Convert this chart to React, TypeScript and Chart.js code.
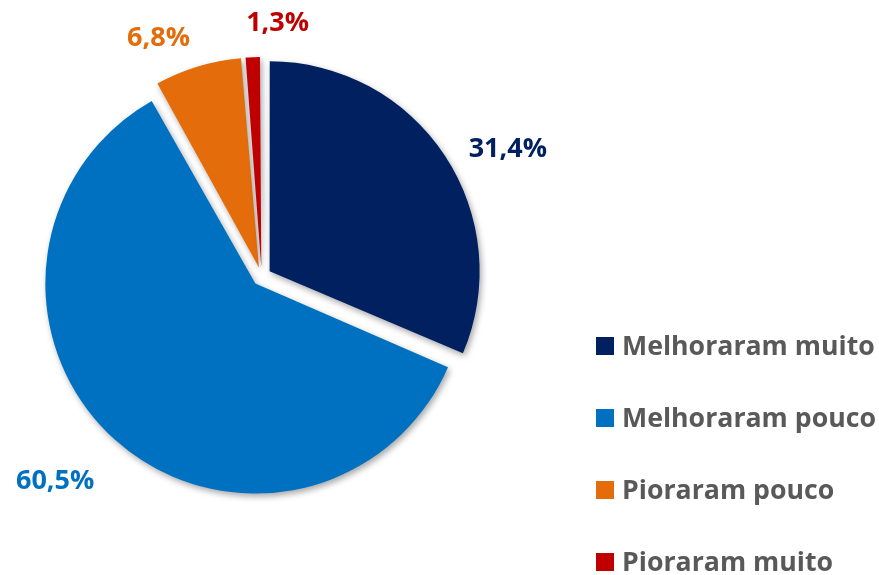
import React, { useEffect, useRef } from 'react';
import { Chart, registerables } from 'chart.js';

Chart.register(...registerables);

// ---- data ----
const categories = ['Melhoraram muito', 'Melhoraram pouco', 'Pioraram pouco', 'Pioraram muito'];
const shares = [31.4, 60.5, 6.8, 1.3];
const sliceColors = ['#002060', '#0070C0', '#E46C0A', '#C00000'];

const FONT = '"Open Sans", "Noto Sans", sans-serif';
const fmt = (v: number) => v.toFixed(1).replace('.', ',') + '%';

const shadowPlugin = {
  id: 'sliceShadow',
  beforeDatasetsDraw(chart: any) {
    const c = chart.ctx;
    c.save();
    c.shadowColor = 'rgba(0,0,0,0.35)';
    c.shadowBlur = 6;
    c.shadowOffsetX = 2;
    c.shadowOffsetY = 3;
  },
  afterDatasetsDraw(chart: any) {
    chart.ctx.restore();
  },
};

// keep every exploded slice at the same radius
const radiusFix = {
  id: 'radiusFix',
  afterDatasetUpdate(chart: any, args: any) {
    args.meta.data.forEach((el: any) => {
      const off = ((el.options && el.options.offset) || 0) / 4;
      const fix = 1 - Math.sin(Math.min(Math.PI, el.circumference || 0));
      el.outerRadius = el.outerRadius - off * fix;
    });
  },
};

const labelPlugin = {
  id: 'outsideLabels',
  afterDraw(chart: any, _a: any, opts: any) {
    const ctx = chart.ctx;
    const meta = chart.getDatasetMeta(0);
    const ds = chart.data.datasets[0];
    ctx.save();
    ctx.font = `bold ${opts.size}px ${FONT}`;
    ctx.textAlign = 'center';
    ctx.textBaseline = 'middle';
    meta.data.forEach((el: any, i: number) => {
      const mid = (el.startAngle + el.endAngle) / 2;
      const off = (el.options.offset || 0) / 4;
      const dx = Math.cos(mid), dy = Math.sin(mid);
      const ax = el.x + dx * off, ay = el.y + dy * off;
      const text = fmt(ds.data[i]);
      const w = ctx.measureText(text).width;
      const h = opts.size * 0.8;
      const R = el.outerRadius + opts.pad;
      const nud = opts.nudge[i] || [0, 0];
      const cx = ax + dx * R + dx * w / 2 + nud[0];
      const cy = ay + dy * R + dy * h / 2 + nud[1];
      ctx.fillStyle = ds.backgroundColor[i];
      ctx.fillText(text, cx, cy);
    });
    ctx.restore();
  },
};

const legendPlugin = {
  id: 'sideLegend',
  afterDraw(chart: any, _a: any, opts: any) {
    const ctx = chart.ctx;
    const ds = chart.data.datasets[0];
    ctx.save();
    ctx.font = `bold ${opts.size}px ${FONT}`;
    ctx.textAlign = 'left';
    ctx.textBaseline = 'middle';
    chart.data.labels.forEach((lab: string, i: number) => {
      const cy = opts.y + i * opts.step;
      ctx.fillStyle = ds.backgroundColor[i];
      ctx.fillRect(opts.x, cy - opts.box / 2, opts.box, opts.box);
      ctx.fillStyle = opts.color;
      ctx.fillText(lab, opts.x + opts.box + opts.gap, cy + 1);
    });
    ctx.restore();
  },
};

export default function App() {
  const ref = useRef<HTMLCanvasElement>(null);
  useEffect(() => {
    const chart = new Chart(ref.current as HTMLCanvasElement, {
      type: 'pie',
      data: {
        labels: categories,
        datasets: [
          {
            data: shares,
            backgroundColor: sliceColors,
            borderWidth: 0,
            offset: 38,
            radius: 210,
          } as any,
        ],
      },
      options: {
        responsive: false,
        animation: false,
        events: [],
        layout: { padding: { left: 45, right: 400.6, top: 60, bottom: 82 } },
        plugins: {
          legend: { display: false },
          tooltip: { enabled: false },
          outsideLabels: { size: 27, pad: 30, nudge: [[6, 16], [-20, 18], [-23, 6], [27, -2]] },
          sideLegend: { x: 596, y: 346, step: 72, box: 18, gap: 8, size: 26.7, color: '#595959' },
        } as any,
      },
      plugins: [radiusFix, shadowPlugin, labelPlugin, legendPlugin],
    });
    return () => chart.destroy();
  }, []);
  return (
    <div style={{ position: 'fixed', left: 0, top: 0, width: 879, height: 575, background: '#fff' }}>
      <canvas ref={ref} width={879} height={575} style={{ display: 'block' }} />
    </div>
  );
}
